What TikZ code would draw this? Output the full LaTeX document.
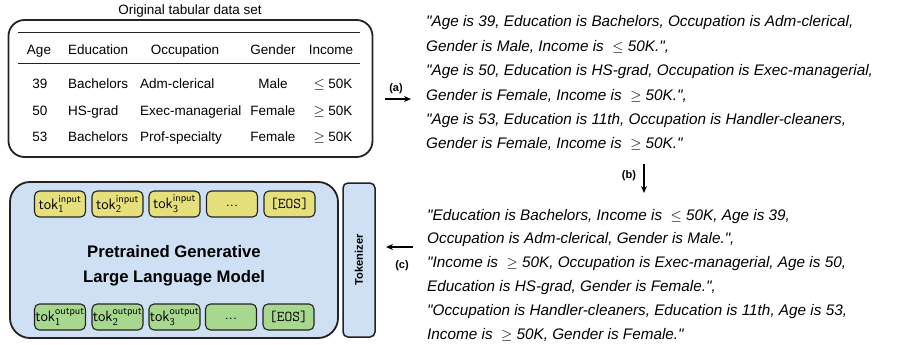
\documentclass[tikz,border=0pt]{standalone}
\usepackage{fontspec}
\setmainfont{Liberation Sans}[Ligatures=TeXOff]
\usetikzlibrary{arrows.meta}
\definecolor{llmblue}{RGB}{207,224,245}
\definecolor{tokyellow}{RGB}{230,224,124}
\definecolor{tokgreen}{RGB}{168,216,144}
\definecolor{edgegray}{RGB}{34,34,34}
\begin{document}
\begin{tikzpicture}[x=1pt,y=-1pt,
  tbl/.style={font=\fontsize{13.5}{16}\selectfont, inner sep=0pt, anchor=base},
  tl/.style={tbl, anchor=base west},
  sent/.style={font=\fontsize{15.3}{17}\selectfont\itshape, anchor=base west, inner sep=0pt},
  lbl/.style={font=\fontsize{11}{13}\selectfont\bfseries, inner sep=0pt},
  arr/.style={-{Stealth[length=7pt,width=6pt]}, line width=1.5pt},
  tokbox/.style={draw=edgegray, line width=1.1pt, rounded corners=5pt, minimum width=51pt, minimum height=26pt, inner sep=0pt, font=\fontsize{15}{17}\selectfont},
  tokin/.style={tokbox, fill=tokyellow},
  tokout/.style={tokbox, fill=tokgreen},
]
\useasboundingbox (0,0) rectangle (919,345);

% ---- original table ----
\node[tbl] (title) at (190,15) {Original tabular data set};
\node[draw=edgegray, line width=1.8pt, rounded corners=16pt, minimum width=364pt, minimum height=137pt] (tablebox) at (190.5,88.5) {};
\coordinate (r1a) at (18,33); \coordinate (r1b) at (360,33);
\coordinate (r2a) at (18,64); \coordinate (r2b) at (360,64);
\draw[line width=1pt, edgegray] (r1a) -- (r1b);
\draw[line width=1pt, edgegray] (r2a) -- (r2b);

\node[tbl] (hage) at (39,54.3) {Age};
\node[tl] (hedu) at (68,54.3) {Education};
\node[tbl] (hocc) at (185,54.3) {Occupation};
\node[tbl] (hgen) at (273,54.3) {Gender};
\node[tbl] (hinc) at (331,54.3) {Income};

\node[tbl] (a1) at (40,88.3) {39};
\node[tl] (e1) at (68,88.3) {Bachelors};
\node[tl] (o1) at (140,88.3) {Adm-clerical};
\node[tbl] (g1) at (273,88.3) {Male};
\node[tbl] (i1) at (333,88.3) {$\leq$ 50K};

\node[tbl] (a2) at (40,115) {50};
\node[tl] (e2) at (68,115) {HS-grad};
\node[tl] (o2) at (140,115) {Exec-managerial};
\node[tbl] (g2) at (273,115) {Female};
\node[tbl] (i2) at (333,115) {$\geq$ 50K};

\node[tbl] (a3) at (40,141.7) {53};
\node[tl] (e3) at (68,141.7) {Bachelors};
\node[tl] (o3) at (140,141.7) {Prof-specialty};
\node[tbl] (g3) at (273,141.7) {Female};
\node[tbl] (i3) at (333,141.7) {$\geq$ 50K};

% ---- serialized sentences ----
\node[sent] (s1) at (426,27) {"Age is 39, Education is Bachelors, Occupation is Adm-clerical,};
\node[sent] (s2) at (426,51.5) {Gender is Male, Income is \ $\leq$ 50K.",};
\node[sent] (s3) at (426,75.5) {"Age is 50, Education is HS-grad, Occupation is Exec-managerial,};
\node[sent] (s4) at (426,100) {Gender is Female, Income is \ $\geq$ 50K.",};
\node[sent] (s5) at (426,124.5) {"Age is 53, Education is 11th, Occupation is Handler-cleaners,};
\node[sent] (s6) at (426,148.5) {Gender is Female, Income is \ $\geq$ 50K."};

% ---- permuted sentences ----
\node[sent] (p1) at (427,220) {"Education is Bachelors, Income is \ $\leq$ 50K, Age is 39,};
\node[sent] (p2) at (427,243.5) {Occupation is Adm-clerical, Gender is Male.",};
\node[sent] (p3) at (427,267.5) {"Income is \ $\geq$ 50K, Occupation is Exec-managerial, Age is 50,};
\node[sent] (p4) at (427,291.5) {Education is HS-grad, Gender is Female.",};
\node[sent] (p5) at (427,315.5) {"Occupation is Handler-cleaners, Education is 11th, Age is 53,};
\node[sent] (p6) at (427,339.5) {Income is \ $\geq$ 50K, Gender is Female."};

% ---- arrows ----
\coordinate (aS) at (385,99); \coordinate (aE) at (411,99);
\draw[arr] (aS) -- (aE);
\node[lbl] (la) at (396,89) {(a)};
\coordinate (bS) at (644,164); \coordinate (bE) at (644,193);
\draw[arr] (bS) -- (bE);
\node[lbl] (lb) at (629,176) {(b)};
\coordinate (cS) at (413,247); \coordinate (cE) at (386,247);
\draw[arr] (cS) -- (cE);
\node[lbl] (lc) at (402,266) {(c)};

% ---- LLM ----
\node[draw=edgegray, fill=llmblue, line width=1.8pt, rounded corners=20pt, minimum width=328pt, minimum height=156pt] (llm) at (174,260) {};
\node[font=\fontsize{16.7}{25}\selectfont\bfseries, inner sep=0pt, anchor=base] (llmtext1) at (174,257.5) {Pretrained Generative};
\node[font=\fontsize{16.7}{25}\selectfont\bfseries, inner sep=0pt, anchor=base] (llmtext2) at (174,282.5) {Large Language Model};

\node[tokin] (ti1) at (60,204) {\textsf{tok}$_{\mathsf{1}}^{\mathsf{input}}$};
\node[tokin] (ti2) at (117.5,204) {\textsf{tok}$_{\mathsf{2}}^{\mathsf{input}}$};
\node[tokin] (ti3) at (174.5,204) {\textsf{tok}$_{\mathsf{3}}^{\mathsf{input}}$};
\node[tokin, text depth=0pt, text height=4pt] (ti4) at (232,204) {\textsf{...}};
\node[tokin] (ti5) at (289.5,204) {\texttt{[EOS]}};

\node[tokout] (to1) at (60,317) {\textsf{tok}$_{\mathsf{1}}^{\mathsf{output}}$};
\node[tokout] (to2) at (117.5,317) {\textsf{tok}$_{\mathsf{2}}^{\mathsf{output}}$};
\node[tokout] (to3) at (174.5,317) {\textsf{tok}$_{\mathsf{3}}^{\mathsf{output}}$};
\node[tokout, text depth=0pt, text height=4pt] (to4) at (231,317) {\textsf{...}};
\node[tokout] (to5) at (288.5,317) {\texttt{[EOS]}};

% ---- tokenizer ----
\node[draw=edgegray, fill=llmblue, line width=1.5pt, rounded corners=5pt, minimum width=32pt, minimum height=154pt] (tokzr) at (359,260) {};
\node[font=\fontsize{11.1}{13}\selectfont\bfseries, rotate=90, inner sep=0pt] (tokzrtext) at (359,260) {Tokenizer};
\end{tikzpicture}
\end{document}
